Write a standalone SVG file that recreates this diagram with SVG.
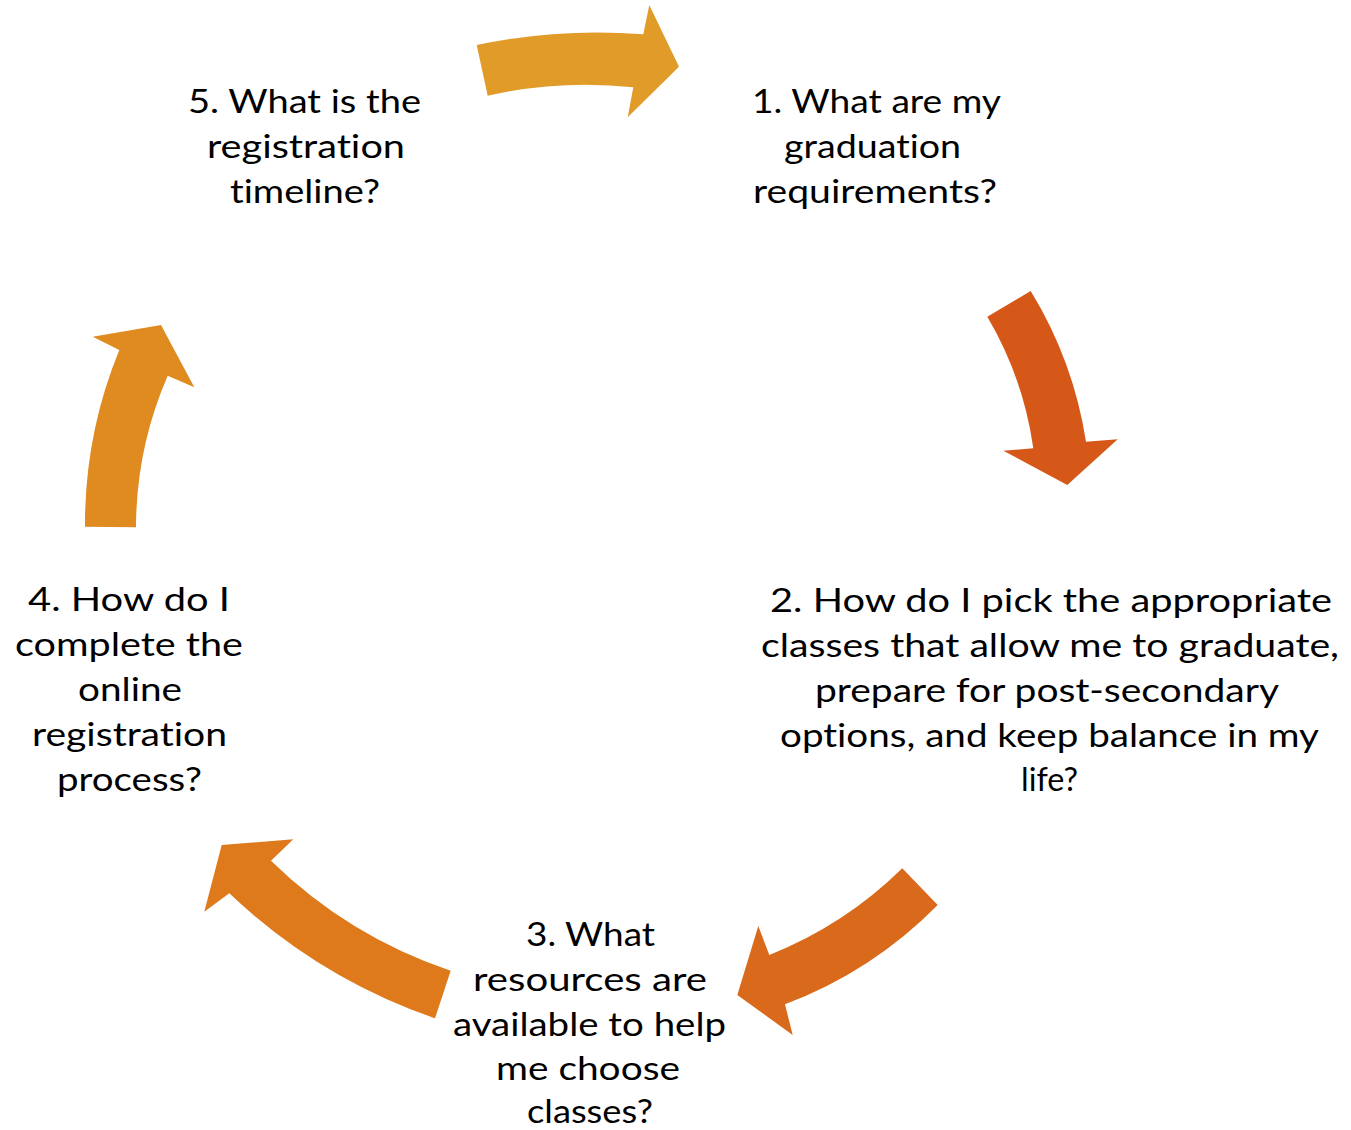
<svg xmlns="http://www.w3.org/2000/svg" width="1351" height="1130" viewBox="0 0 1351 1130">
  <style>
    .lbl { font-family: Lato, "Liberation Sans", "DejaVu Sans", sans-serif; font-size: 32px; fill: #000000; font-variant-ligatures: none; font-feature-settings: "liga" 0, "clig" 0; }
    .a1 { fill: #E19B29; }
    .a2 { fill: #D55818; }
    .a3 { fill: #DA6A1B; }
    .a4 { fill: #DF7A1C; }
    .a5 { fill: #E08B1F; }
  </style>
  <rect width="1351" height="1130" fill="#FFFFFF"/>
  <g id="connectors">
    <path class="a1" d="M 487.7 95.7 L 476.7 45 Q 559.2 27.7 643.3 34.3 L 649.3 5 L 679 66.7 L 627.7 117.3 L 633.3 87.3 Q 559.8 79.5 487.7 95.7 Z"/>
    <path class="a2" d="M 1030.7 291 L 987.3 316.7 Q 1023.4 377.7 1033.3 448.3 L 1003.3 450.7 L 1067.3 485 L 1117.7 439.3 L 1086 441.7 Q 1073.4 360.8 1030.7 291 Z"/>
    <path class="a3" d="M 902.3 868.3 L 937.7 905 Q 872.3 971.4 785 1004.3 L 792.7 1035 L 737.3 995 L 758.3 926 L 769.3 955 Q 844.5 925.1 902.3 868.3 Z"/>
    <path class="a4" d="M 450.7 970.7 L 435 1018.3 Q 318.6 978 229.3 893.3 L 204.3 911.7 L 221.7 845 L 293.3 839.3 L 271 860.7 Q 348.3 936.2 450.7 970.7 Z"/>
    <path class="a5" d="M 136 527.3 L 85 526.7 Q 84.5 434.9 119.3 350 L 92.7 336.7 L 161 325 L 194.3 387.3 L 167.7 375.7 Q 136.2 448.2 136 527.3 Z"/>
  </g>
  <g id="node1">
    <text class="lbl" x="752" y="113" textLength="249" lengthAdjust="spacingAndGlyphs">1. What are my</text>
    <text class="lbl" x="784" y="158" textLength="177" lengthAdjust="spacingAndGlyphs">graduation</text>
    <text class="lbl" x="753" y="203" textLength="244" lengthAdjust="spacingAndGlyphs">requirements?</text>
  </g>
  <g id="node2">
    <text class="lbl" x="770" y="612" textLength="562" lengthAdjust="spacingAndGlyphs">2. How do I pick the appropriate</text>
    <text class="lbl" x="761" y="657" textLength="578" lengthAdjust="spacingAndGlyphs">classes that allow me to graduate,</text>
    <text class="lbl" x="815" y="702" textLength="464" lengthAdjust="spacingAndGlyphs">prepare for post-secondary</text>
    <text class="lbl" x="780" y="747" textLength="539" lengthAdjust="spacingAndGlyphs">options, and keep balance in my</text>
    <text class="lbl" x="1021" y="791" textLength="57" lengthAdjust="spacingAndGlyphs">life?</text>
  </g>
  <g id="node3">
    <text class="lbl" x="526" y="946" textLength="129" lengthAdjust="spacingAndGlyphs">3. What</text>
    <text class="lbl" x="473" y="991" textLength="234" lengthAdjust="spacingAndGlyphs">resources are</text>
    <text class="lbl" x="453" y="1036" textLength="273" lengthAdjust="spacingAndGlyphs">available to help</text>
    <text class="lbl" x="496" y="1080" textLength="184" lengthAdjust="spacingAndGlyphs">me choose</text>
    <text class="lbl" x="527" y="1123" textLength="126" lengthAdjust="spacingAndGlyphs">classes?</text>
  </g>
  <g id="node4">
    <text class="lbl" x="28" y="611" textLength="202" lengthAdjust="spacingAndGlyphs">4. How do I</text>
    <text class="lbl" x="15" y="656" textLength="228" lengthAdjust="spacingAndGlyphs">complete the</text>
    <text class="lbl" x="78" y="701" textLength="104" lengthAdjust="spacingAndGlyphs">online</text>
    <text class="lbl" x="32" y="746" textLength="195" lengthAdjust="spacingAndGlyphs">registration</text>
    <text class="lbl" x="57" y="791" textLength="145" lengthAdjust="spacingAndGlyphs">process?</text>
  </g>
  <g id="node5">
    <text class="lbl" x="188" y="113" textLength="233" lengthAdjust="spacingAndGlyphs">5. What is the</text>
    <text class="lbl" x="207" y="158" textLength="198" lengthAdjust="spacingAndGlyphs">registration</text>
    <text class="lbl" x="230" y="203" textLength="150" lengthAdjust="spacingAndGlyphs">timeline?</text>
  </g>
</svg>
